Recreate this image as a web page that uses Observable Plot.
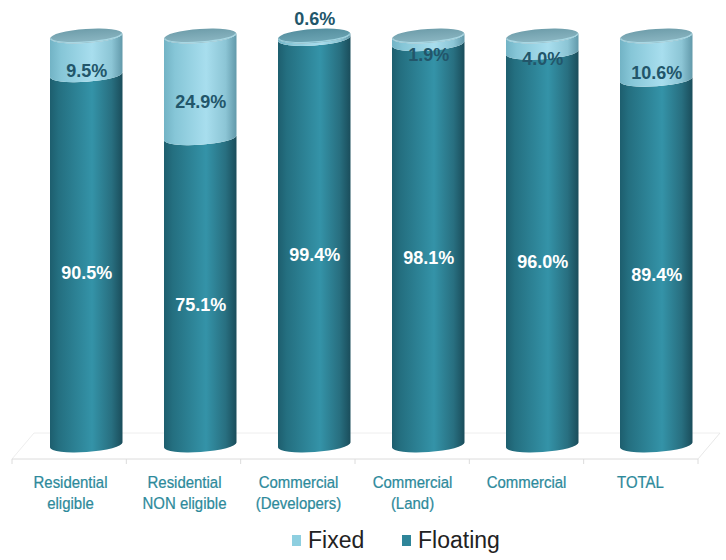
<!DOCTYPE html>
<html>
<head>
<meta charset="utf-8">
<script src="https://cdn.jsdelivr.net/npm/d3@7"></script>
<script src="https://cdn.jsdelivr.net/npm/@observablehq/plot@0.6"></script>
<style>
  body { margin: 0; background: #fff; }
  #wrap { width: 726px; position: relative; }
  #legend { position: relative; height: 40px; font-family: "Liberation Sans", Arial, sans-serif; font-size: 23px; color: #222; }
  #legend .item { position: absolute; top: 0; height: 40px; display: flex; align-items: center; }
  #legend .sw { width: 9px; height: 11px; margin-right: 7px; }
</style>
</head>
<body>
<div id="wrap">
  <div id="chart"></div>
  <div id="legend"></div>
</div>
<script>
const categories = ["Residential eligible", "Residential NON eligible", "Commercial (Developers)", "Commercial (Land)", "Commercial", "TOTAL"];
const tickLabels = ["Residential\neligible", "Residential\nNON eligible", "Commercial\n(Developers)", "Commercial\n(Land)", "Commercial", "TOTAL"];
const fixedValues = [9.5, 24.9, 0.6, 1.9, 4.0, 10.6];
const floatingValues = [90.5, 75.1, 99.4, 98.1, 96.0, 89.4];
const seriesNames = ["Fixed", "Floating"];
const seriesColors = ["#8ecfe0", "#2e8599"];

const rows = categories.map((c, i) => ({cat: c, fixed: fixedValues[i], floating: floatingValues[i]}));
const long = [];
categories.forEach((c, i) => long.push({cat: c, series: "Floating", value: floatingValues[i], fixed: fixedValues[i]}));
categories.forEach((c, i) => long.push({cat: c, series: "Fixed", value: fixedValues[i], fixed: fixedValues[i]}));

const INSET_L = 37, INSET_R = 4.5, RY = 7, TILT = 2.5;

function bandwidthOf(scales, dims) {
  const b = scales.x && scales.x.bandwidth;
  if (typeof b === "number") return b;
  if (typeof b === "function") return b();
  return (dims.width - dims.marginLeft - dims.marginRight) / categories.length;
}

function floorRender(index, scales, values, dims) {
  const g = d3.create("svg:g");
  const y0 = scales.y(0);
  const xl = dims.marginLeft, xr = dims.width - dims.marginRight;
  const front = y0 + 14, back = y0 - 12, depth = 22;
  const step = (xr - xl) / categories.length;
  const line = (x1, y1, x2, y2, c) => g.append("line").attr("x1", x1).attr("y1", y1).attr("x2", x2).attr("y2", y2).attr("stroke", c).attr("stroke-width", 1);
  line(xl + depth, back, xr + depth, back, "#eeeeee");
  line(xl, front, xl + depth, back, "#eeeeee");
  line(xr, front, xr + depth, back, "#e8e8e8");
  line(xl, front, xr, front, "#dcdcdc");
  for (let k = 0; k <= categories.length; k++) {
    line(xl + k * step, front, xl + k * step, front + 5, "#dcdcdc");
  }
  return g.node();
}

function cylRender(index, scales, values, dims) {
  const g = d3.create("svg:g");
  const defs = g.append("defs");
  const grad = (id, stops, vertical) => {
    const lg = defs.append("linearGradient").attr("id", id)
      .attr("x1", 0).attr("y1", 0).attr("x2", vertical ? 0 : 1).attr("y2", vertical ? 1 : 0);
    stops.forEach(([o, c]) => lg.append("stop").attr("offset", o).attr("stop-color", c));
  };
  grad("gFloating", [[0, "#1d5e6e"], [0.12, "#246f80"], [0.58, "#3493a8"], [0.85, "#286f80"], [1, "#1a4d5b"]]);
  grad("gFixed", [[0, "#72b3c5"], [0.15, "#86c6d7"], [0.58, "#a8deee"], [0.85, "#8cc5d5"], [1, "#6299aa"]]);
  grad("gFaceLight", [[0, "#6f9eab"], [1, "#8cb7c3"]], true);
  grad("gFaceDark", [[0, "#558f9f"], [1, "#6ea6b5"]], true);

  const bw = bandwidthOf(scales, dims);
  const order = Array.from(index).sort((a, b) => (long[a].series === "Floating" ? 0 : 1) - (long[b].series === "Floating" ? 0 : 1));
  for (const i of order) {
    const d = long[i];
    const X = values.x[i];
    const x1 = X + INSET_L, x2 = X + bw - INSET_R;
    const rx = (x2 - x1) / 2;
    const rot = Math.atan2(-2 * TILT, x2 - x1) * 180 / Math.PI;
    const yT = Math.min(values.y1[i], values.y2[i]);
    const yB = Math.max(values.y1[i], values.y2[i]);
    const p = `M${x1},${yT + TILT} L${x1},${yB + TILT} A${rx},${RY} ${rot} 0 0 ${x2},${yB - TILT} L${x2},${yT - TILT} A${rx},${RY} ${rot} 0 1 ${x1},${yT + TILT} Z`;
    g.append("path").attr("d", p).attr("fill", `url(#g${d.series})`);
  }
  for (const i of order) {
    const d = long[i];
    if (d.series !== "Fixed") continue;
    const X = values.x[i];
    const x1 = X + INSET_L, x2 = X + bw - INSET_R;
    const rx = (x2 - x1) / 2, cx = (x1 + x2) / 2;
    const rot = Math.atan2(-2 * TILT, x2 - x1) * 180 / Math.PI;
    const yT = Math.min(values.y1[i], values.y2[i]);
    const thin = d.value < 1;
    g.append("ellipse").attr("cx", cx).attr("cy", yT).attr("rx", rx).attr("ry", RY)
      .attr("transform", `rotate(${rot},${cx},${yT})`)
      .attr("fill", thin ? "url(#gFaceDark)" : "url(#gFaceLight)");
    g.append("path")
      .attr("d", `M${x1 + 1},${yT + TILT} A${rx - 1},${RY - 1} ${rot} 0 0 ${x2 - 1},${yT - TILT}`)
      .attr("fill", "none").attr("stroke", thin ? "#9fd3e0" : "#a9d8e4").attr("stroke-width", 1.2);
  }
  return g.node();
}

const labelFont = "'Liberation Sans', Arial, sans-serif";

const plot = Plot.plot({
  width: 726,
  height: 520,
  marginLeft: 12,
  marginRight: 28,
  marginTop: 36,
  marginBottom: 75,
  style: {background: "#fff", fontFamily: labelFont},
  x: {type: "band", domain: categories, padding: 0, axis: null},
  y: {domain: [0, 100], axis: null},
  marks: [
    Plot.ruleY([0], {render: floorRender}),
    Plot.barY(long, Plot.stackY({x: "cat", y: "value", z: "series", order: ["Floating", "Fixed"], fill: "series", render: cylRender})),
    Plot.axisX({
      tickSize: 0, tickPadding: 28, label: null,
      tickFormat: d => tickLabels[categories.indexOf(d)],
      fontSize: 17, lineHeight: 1.235, color: "#2d8a9b",
      fontFamily: labelFont
    }),
    Plot.text(rows, {x: "cat", y: d => d.floating / 2, dx: 16.25, dy: 13,
      text: d => d.floating.toFixed(1) + "%", fill: "#ffffff", fontSize: 18, fontWeight: "bold", fontFamily: labelFont}),
    Plot.text(rows.filter(d => d.fixed >= 1), {x: "cat", y: d => 100 - d.fixed / 2, dx: 16.25, dy: 15,
      text: d => d.fixed.toFixed(1) + "%", fill: "#22566a", fontSize: 18, fontWeight: "bold", fontFamily: labelFont}),
    Plot.text(rows.filter(d => d.fixed < 1), {x: "cat", y: 100, dx: 16.25, dy: -17,
      text: d => d.fixed.toFixed(1) + "%", fill: "#22566a", fontSize: 18, fontWeight: "bold", fontFamily: labelFont})
  ]
});
document.getElementById("chart").appendChild(plot);

// condense the category labels horizontally (the reference uses a narrow face)
d3.select(plot).selectAll("g[aria-label='x-axis tick label'] text").each(function() {
  const t = this.getAttribute("transform") || "";
  this.setAttribute("transform", t + " scale(0.88,1)");
  this.setAttribute("stroke", "#2d8a9b");
  this.setAttribute("stroke-width", "0.25");
});

const legend = d3.select("#legend");
const legendLeft = [292, 402];
seriesNames.forEach((s, i) => {
  const it = legend.append("div").attr("class", "item").style("left", legendLeft[i] + "px");
  it.append("div").attr("class", "sw").style("background", seriesColors[i]);
  it.append("span").text(s);
});
</script>
</body>
</html>
